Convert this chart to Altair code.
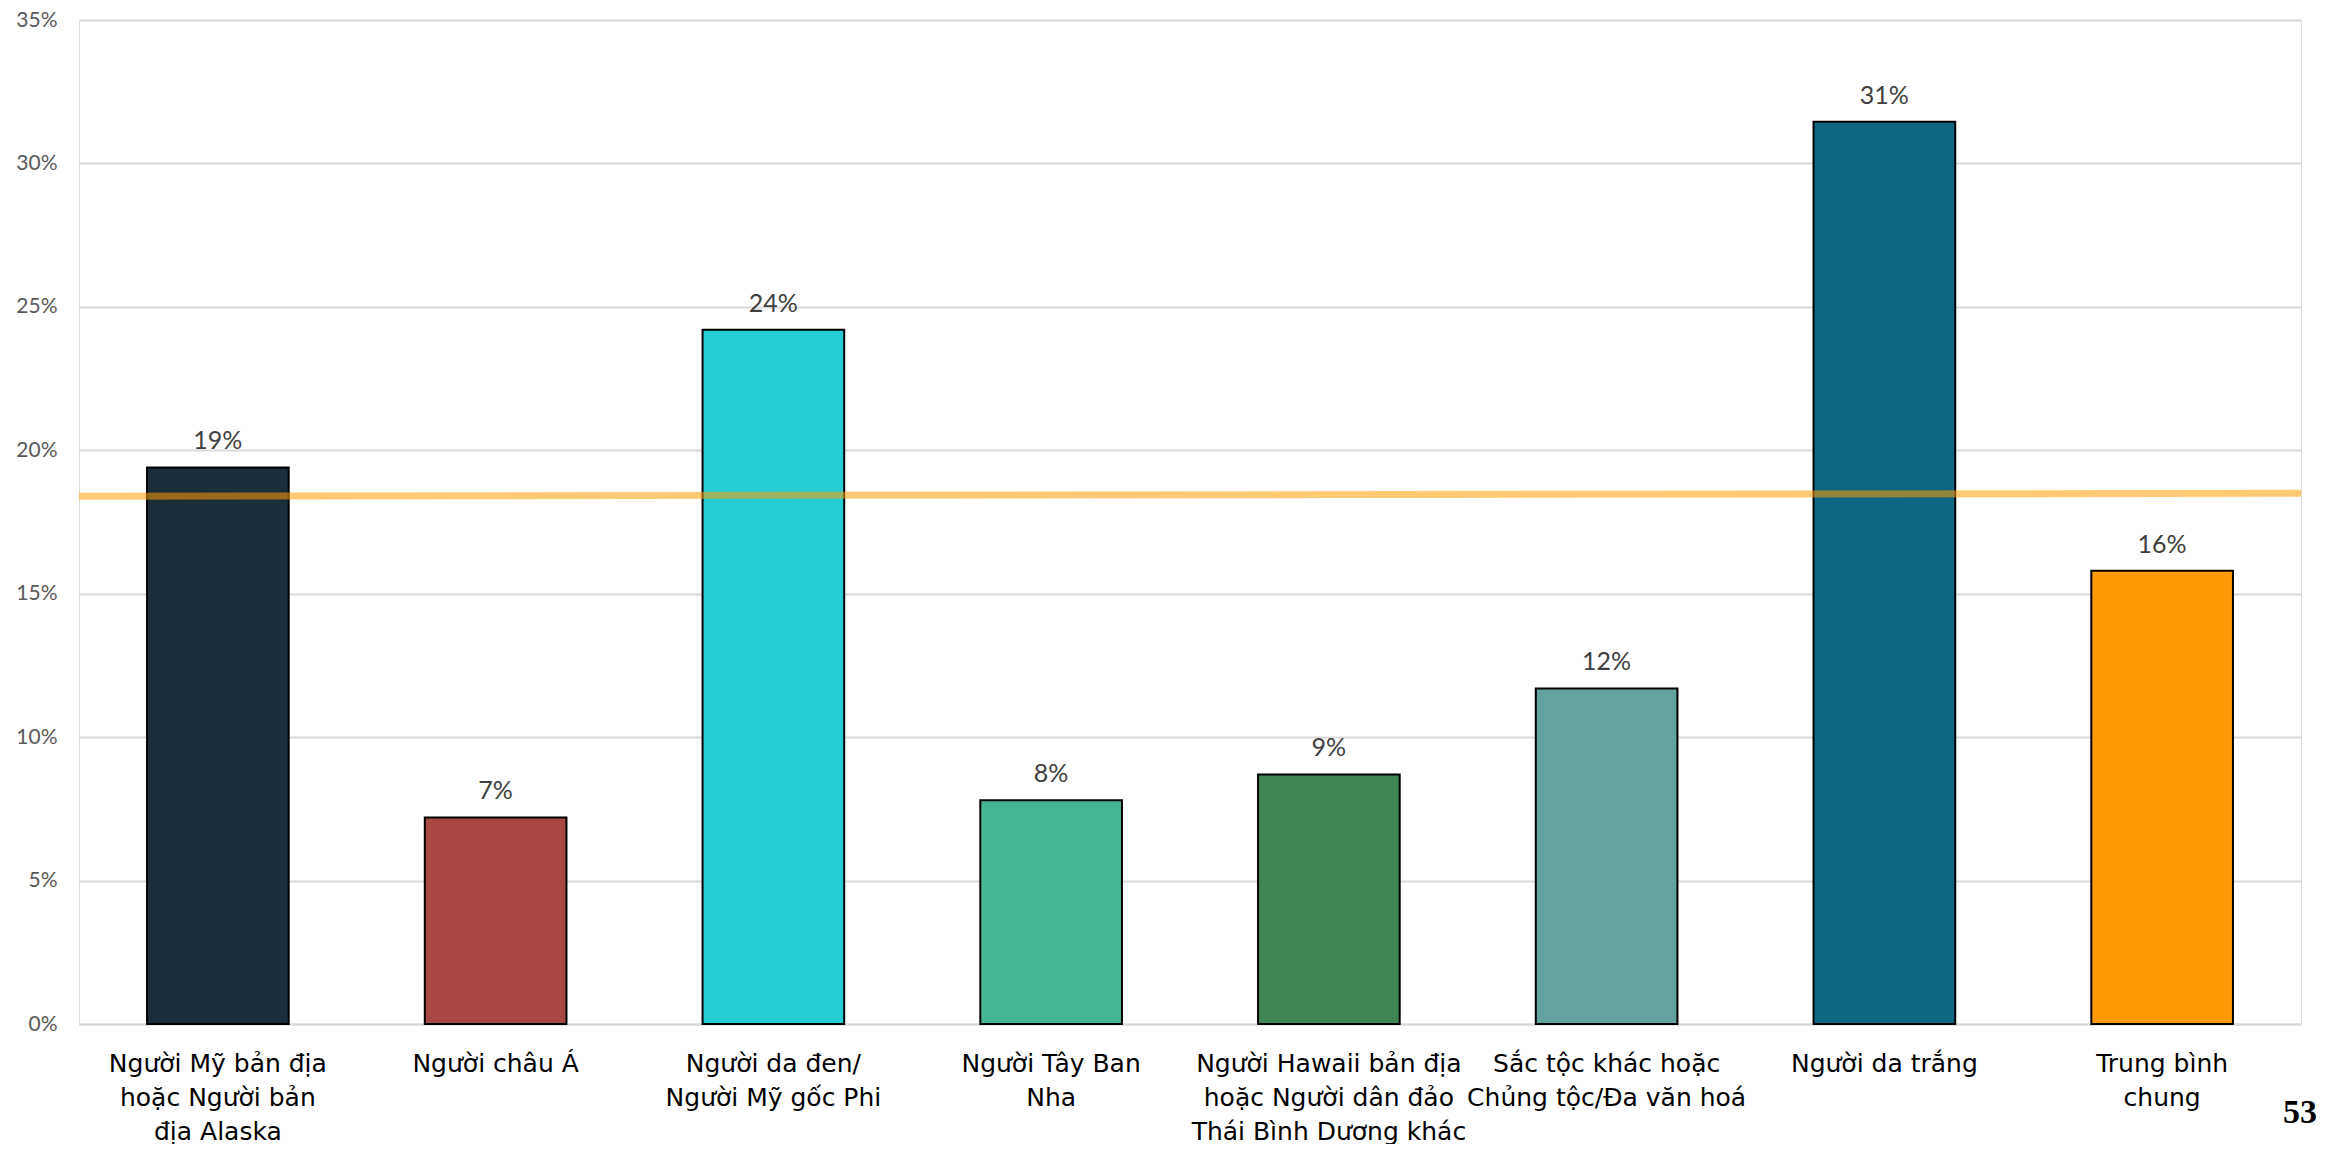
import altair as alt
import pandas as pd

categories = [
    "Người Mỹ bản địa|hoặc Người bản|địa Alaska",
    "Người châu Á",
    "Người da đen/|Người Mỹ gốc Phi",
    "Người Tây Ban|Nha",
    "Người Hawaii bản địa|hoặc Người dân đảo|Thái Bình Dương khác",
    "Sắc tộc khác hoặc|Chủng tộc/Đa văn hoá",
    "Người da trắng",
    "Trung bình|chung",
]
values = [19.4, 7.2, 24.2, 7.8, 8.7, 11.7, 31.45, 15.8]
colors = ["#1B2D3B", "#A84843", "#26CCD4", "#43B894", "#3E8754", "#63A39F", "#106784", "#FF9A04"]
avg_line = [18.4, 18.5]
y_ticks = [0, 5, 10, 15, 20, 25, 30, 35]
page_number = "53"

W, H = 2222, 1004

df = pd.DataFrame({"cat": categories, "value": values, "color": colors})

xenc = alt.X(
    "cat:N",
    sort=None,
    scale=alt.Scale(paddingInner=0.49, paddingOuter=0.245),
    axis=alt.Axis(
        title=None,
        labelAngle=0,
        labelExpr="split(datum.label, '|')",
        labelFont="DejaVu Sans",
        labelFontSize=25,
        labelLineHeight=34,
        labelColor="#000000",
        labelPadding=27,
        labelLimit=0,
        ticks=False,
        domain=True,
        domainColor="#D9D9D9",
        domainWidth=2,
        grid=False,
    ),
)

yscale = alt.Scale(domain=[0, 35], nice=False)

bars = alt.Chart(df).mark_bar(stroke="#000000", strokeWidth=2).encode(
    x=xenc,
    y=alt.Y(
        "value:Q",
        scale=yscale,
        axis=alt.Axis(
            title=None,
            values=y_ticks,
            labelExpr="datum.value + '%'",
            labelFont="Lato",
            labelFontSize=21,
            labelColor="#595959",
            labelPadding=22,
            ticks=False,
            domain=False,
            grid=True,
            gridColor="#D9D9D9",
            gridWidth=2,
        ),
    ),
    color=alt.Color("color:N", scale=None),
)

labels = alt.Chart(df).transform_calculate(
    lbl="round(datum.value) + '%'"
).mark_text(
    font="Lato", fontSize=25, color="#404040", baseline="alphabetic", dy=-18
).encode(
    x=alt.X("cat:N", sort=None),
    y=alt.Y("value:Q", scale=yscale),
    text="lbl:N",
)

line_df = pd.DataFrame({"y1": [avg_line[0]], "y2": [avg_line[1]]})
avg = alt.Chart(line_df).mark_rule(
    color="#FF9F00", opacity=0.55, strokeWidth=7
).encode(
    x=alt.value(0),
    x2=alt.value(W),
    y=alt.Y("y1:Q", scale=yscale),
    y2="y2:Q",
)

page = alt.Chart(pd.DataFrame({"t": [page_number]})).mark_text(
    font="Liberation Serif", fontWeight="bold", fontSize=34, color="#000000",
    align="center", baseline="alphabetic"
).encode(
    x=alt.value(2221),
    y=alt.value(1103),
    text="t:N",
)

chart = alt.layer(bars, labels, avg, page).properties(
    width=W, height=H, padding={"left": 7, "top": 1, "right": 0, "bottom": 0}
).configure_view(stroke=None).configure(background="white")

chart.save("out.html", embed_options={"renderer": "svg", "actions": False})
